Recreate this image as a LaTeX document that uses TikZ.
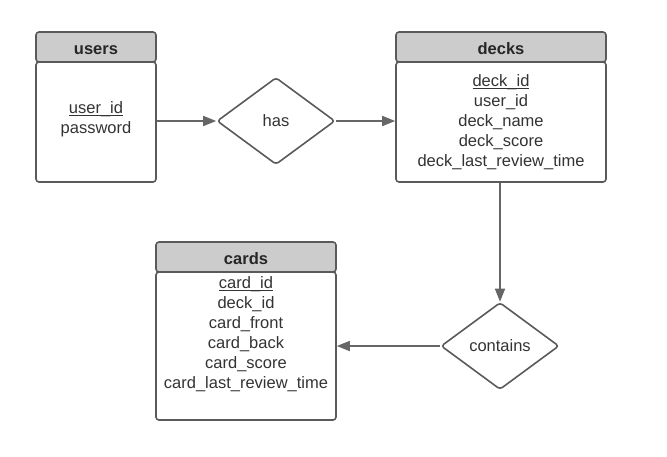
\documentclass[tikz,border=0pt]{standalone}
\usepackage{fontspec}
\setmainfont{Liberation Sans}
\usetikzlibrary{shapes.geometric,arrows.meta}
\definecolor{linegray}{HTML}{666666}
\definecolor{boxgray}{HTML}{5A5A5A}
\definecolor{headfill}{HTML}{CCCCCC}
\definecolor{textgray}{HTML}{333333}
\newcommand{\keyfield}[1]{\setbox0\hbox{#1}\rlap{\rule[-2.4pt]{\wd0}{0.9pt}}\box0}
\tikzset{every edge/.style={draw,linegray,line width=1.6pt,-{Triangle[length=13pt,width=10pt]}}}
\tikzstyle{header}=[rectangle,draw=boxgray,fill=headfill,line width=1.6pt,rounded corners=3pt,inner sep=0pt,text height=16pt,text depth=2pt,font=\fontsize{16.5}{20}\selectfont\bfseries,text=black!85]
\tikzstyle{body}=[rectangle,draw=boxgray,fill=white,line width=1.6pt,rounded corners=3pt,inner sep=0pt]
\tikzstyle{fields}=[align=center,inner sep=0pt,font=\fontsize{16.5}{20}\selectfont,text=textgray]
\tikzstyle{relation}=[diamond,draw=boxgray,fill=white,line width=1.6pt,rounded corners=3pt,inner sep=0pt,aspect=1.35,minimum width=118pt,minimum height=87pt,font=\fontsize{16.5}{20}\selectfont,text=textgray]

\begin{document}
\begin{tikzpicture}[x=1pt,y=-1pt]
	\useasboundingbox (0,0) rectangle (667,456);
	% users
	\node at (96,47) [header,minimum width=120pt,minimum height=30pt] (usersh) {users};
	\node at (96,122) [body,minimum width=120pt,minimum height=120pt] (users) {};
	\node at (96,119) [fields] (usersf) {\keyfield{user\_id}\\password};
	% decks
	\node at (501,47) [header,minimum width=210pt,minimum height=30pt] (decksh) {decks};
	\node at (501,122) [body,minimum width=210pt,minimum height=120pt] (decks) {};
	\node at (501,122) [fields] (decksf) {\keyfield{deck\_id}\\user\_id\\deck\_name\\deck\_score\\deck\_last\_review\_time};
	% cards
	\node at (246,257) [header,minimum width=180pt,minimum height=30pt] (cardsh) {cards};
	\node at (246,346) [body,minimum width=180pt,minimum height=148pt] (cards) {};
	\node at (246,334) [fields] (cardsf) {\keyfield{card\_id}\\deck\_id\\card\_front\\card\_back\\card\_score\\card\_last\_review\_time};
	% relations
	\node at (276,121) [relation] (has) {has};
	\node at (500,346) [relation] (contains) {contains};
	\draw (users.east |- has.west) edge (has.west);
	\draw (has.east) edge (decks.west |- has.east);
	\draw (decks.south -| contains.north) edge (contains.north);
	\draw (contains.west) edge (cards.east |- contains.west);
\end{tikzpicture}
\end{document}
